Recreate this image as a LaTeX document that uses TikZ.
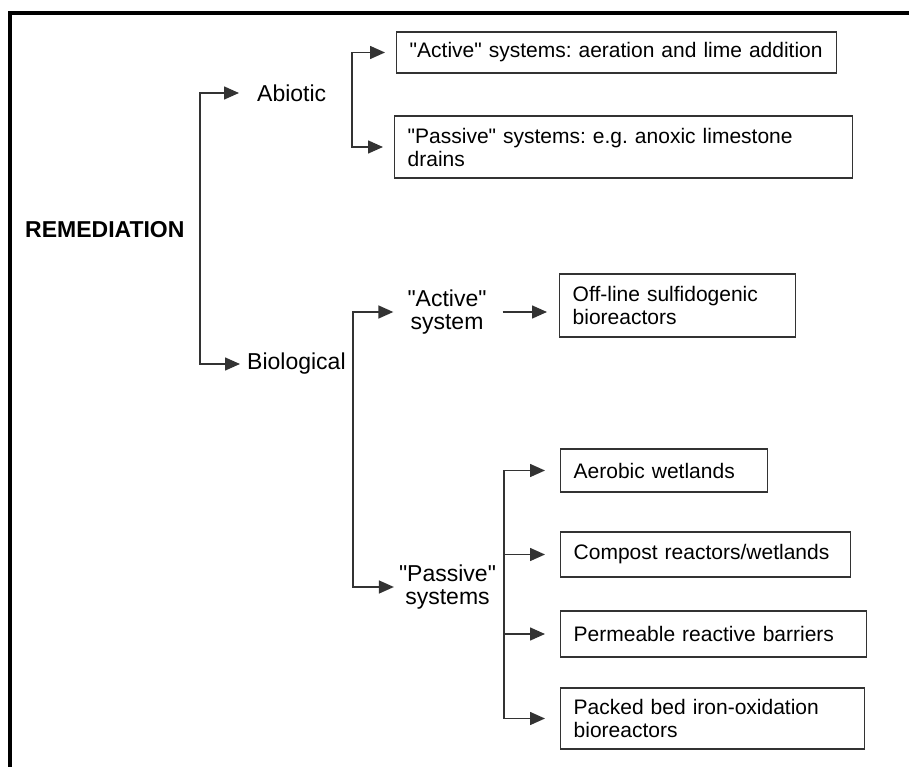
\documentclass[tikz,border=0pt]{standalone}
\usepackage{fontspec}
\setmainfont{Liberation Sans}
\usetikzlibrary{arrows.meta}
\definecolor{linegray}{HTML}{333333}
\newcommand{\qt}[1]{\textquotedbl#1\textquotedbl}
\frenchspacing
\hyphenpenalty=10000

\begin{document}
\begin{tikzpicture}[x=1pt, y=-1pt, >={Triangle[length=15pt,width=13pt]},
    box/.style={draw=linegray, line width=1.4pt, anchor=west, align=left, inner xsep=13pt, font=\fontsize{21}{23}\selectfont},
    lab/.style={align=center, inner sep=0pt, font=\fontsize{23}{23}\selectfont},
    conn/.style={draw=linegray, line width=1.5pt}]
    \useasboundingbox (0,0) rectangle (909,767);
    % frame, cut off at right and bottom
    \draw[line width=4pt] (10,767) -- (10,13) -- (909,13);
    \node[lab, anchor=west, font=\fontsize{23}{23}\selectfont\bfseries] (rem) at (25,230) {REMEDIATION};
    \node[lab, anchor=west] (abio) at (257,93) {Abiotic};
    \node[lab, anchor=west] (bio) at (247,364) {Biological};
    \node[lab] (act) at (447,312) {\qt{Active}\\system};
    \node[lab] (pas) at (447.5,587) {\qt{Passive}\\systems};
    \node[box, text width=414pt, minimum height=41pt] (a1) at (396,52.5) {\qt{Active} systems: aeration and lime addition};
    \node[box, text width=432pt, minimum height=62pt] (a2) at (394,147) {\qt{Passive} systems: e.g. anoxic limestone\\drains};
    \node[box, text width=210pt, minimum height=63pt] (off) at (559,305.5) {Off-line sulfidogenic\\bioreactors};
    \node[box, text width=181pt, minimum height=43pt] (aer) at (560,470.5) {Aerobic wetlands};
    \node[box, text width=264pt, minimum height=45pt] (comp) at (560,554.5) {Compost reactors/wetlands};
    \node[box, text width=280pt, minimum height=46pt] (perm) at (560,634) {Permeable reactive barriers};
    \node[box, text width=278pt, minimum height=61pt] (pack) at (560,718.5) {Packed bed iron-oxidation\\bioreactors};
    % forks
    \coordinate (rf) at (200,230);
    \coordinate (af) at (352,100);
    \coordinate (bf) at (353,450);
    \coordinate (pf) at (504,600);
    \draw[conn, ->, shorten >=18pt] (rf) |- (abio.west);
    \draw[conn, ->, shorten >=7pt] (rf) |- (bio.west);
    \draw[conn, ->, shorten >=11pt] (af) |- (a1.west);
    \draw[conn, ->, shorten >=11pt] (af) |- (a2.west);
    \draw[conn, ->, shorten >=14pt] (bf) |- (act.west);
    \draw[conn, ->, shorten >=5pt] (bf) |- (pas.west);
    \draw[conn, ->, shorten <=16pt, shorten >=12pt] (act.east) -- (act.east -| off.west);
    \draw[conn, ->, shorten >=15pt] (pf) |- (aer.west);
    \draw[conn, ->, shorten >=15pt] (pf) |- (comp.west);
    \draw[conn, ->, shorten >=15pt] (pf) |- (perm.west);
    \draw[conn, ->, shorten >=15pt] (pf) |- (pack.west);
  \end{tikzpicture}
\end{document}
